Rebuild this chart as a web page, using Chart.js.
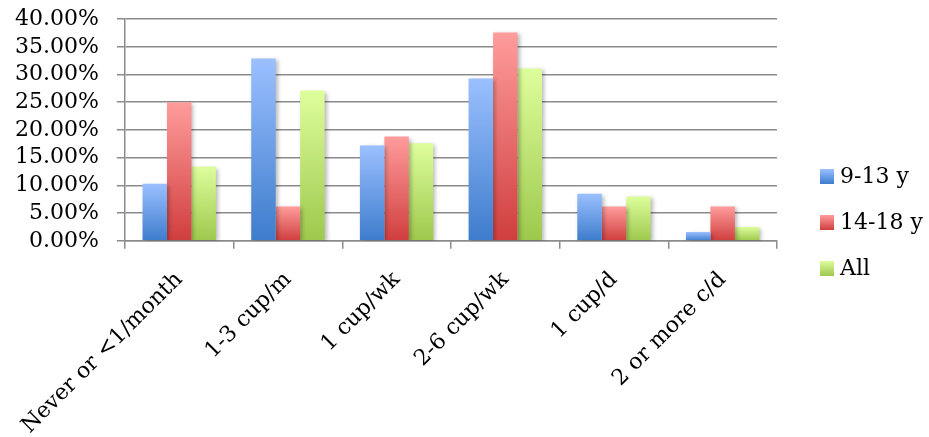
<!DOCTYPE html>
<html lang="en">
<head>
    <meta charset="UTF-8">
    <title>Cup frequency by age group</title>
    <script src="https://cdn.jsdelivr.net/npm/chart.js"></script>
    <style>
        html, body { margin: 0; padding: 0; background: #fff; }
        #wrap { width: 929px; height: 437px; }
    </style>
</head>
<body>
    <div id="wrap"><canvas id="barChart"></canvas></div>

    <script>
        // frequency categories
        const categories = ['Never or <1/month', '1-3 cup/m', '1 cup/wk', '2-6 cup/wk', '1 cup/d', '2 or more c/d'];
        const seriesNames = ['9-13 y', '14-18 y', 'All'];

        // percent of each group
        const kids9to13 = [10.3, 32.9, 17.2, 29.3, 8.5, 1.6];
        const teens14to18 = [25.0, 6.2, 18.8, 37.6, 6.2, 6.2];
        const allAges = [13.4, 27.1, 17.6, 31.1, 8.0, 2.5];

        const yTicks = [0, 5, 10, 15, 20, 25, 30, 35, 40];

        // light top -> dark bottom, like the old office bar style
        const shades = [
            ['#9bc0ff', '#3d7ccc'],
            ['#ff9c9c', '#d03e3e'],
            ['#defe9c', '#9dc84c']
        ];

        const FONT = "'DejaVu Serif', serif";
        const GRID = '#8b8b8b';

        function barFill(top, bottom) {
            return function (c) {
                const chart = c.chart;
                const y = chart.scales.y;
                if (c.type !== 'data' || !y || !c.parsed) return bottom;
                const yTop = y.getPixelForValue(c.parsed.y);
                const yBase = y.getPixelForValue(0);
                if (!isFinite(yTop) || !isFinite(yBase) || yTop === yBase) return bottom;
                const g = chart.ctx.createLinearGradient(0, yTop, 0, yBase);
                g.addColorStop(0, top);
                g.addColorStop(1, bottom);
                return g;
            };
        }

        // soft drop shadow behind the bars
        const barShadow = {
            id: 'barShadow',
            beforeDatasetsDraw(chart) {
                const ctx = chart.ctx;
                ctx.save();
                ctx.shadowColor = 'rgba(0,0,0,0.28)';
                ctx.shadowBlur = 4;
                ctx.shadowOffsetX = 2;
                ctx.shadowOffsetY = 2;
            },
            afterDatasetsDraw(chart) {
                chart.ctx.restore();
            }
        };

        // legend to the right of the plot, boxes shaded like the bars
        const sideLegend = {
            id: 'sideLegend',
            afterDraw(chart) {
                const ctx = chart.ctx;
                const x = chart.chartArea.right + 43;
                const rowGap = 46;
                const n = chart.data.datasets.length;
                let y = chart.height / 2 + 4 - rowGap * (n - 1) / 2;
                ctx.save();
                ctx.font = '22px ' + FONT;
                ctx.textBaseline = 'middle';
                chart.data.datasets.forEach((ds, i) => {
                    const g = ctx.createLinearGradient(0, y - 7.5, 0, y + 7.5);
                    g.addColorStop(0, shades[i][0]);
                    g.addColorStop(1, shades[i][1]);
                    ctx.fillStyle = g;
                    ctx.fillRect(x, y - 7.5, 14, 15);
                    ctx.fillStyle = '#000';
                    ctx.fillText(ds.label, x + 20, y + 1);
                    y += rowGap;
                });
                ctx.restore();
            }
        };

        const seriesValues = [kids9to13, teens14to18, allAges];
        const datasets = seriesNames.map((name, i) => ({
            label: name,
            data: seriesValues[i],
            backgroundColor: barFill(shades[i][0], shades[i][1]),
            borderWidth: 0,
            categoryPercentage: 0.675,
            barPercentage: 1.0
        }));

        const ctx = document.getElementById('barChart').getContext('2d');
        const myBarChart = new Chart(ctx, {
            type: 'bar',
            data: { labels: categories, datasets: datasets },
            plugins: [barShadow, sideLegend],
            options: {
                responsive: true,
                maintainAspectRatio: false,
                animation: false,
                layout: { padding: { left: -3, right: 152, top: 0, bottom: -20 } },
                plugins: {
                    legend: { display: false },
                    tooltip: { enabled: false }
                },
                scales: {
                    x: {
                        offset: true,
                        // the slanted first label may hang left past the y axis
                        afterFit(scale) {
                            scale.paddingLeft = 0;
                        },
                        grid: {
                            display: true,
                            offset: true,
                            drawOnChartArea: false,
                            drawTicks: true,
                            tickLength: 8,
                            color: GRID,
                            lineWidth: 1.5
                        },
                        border: { display: true, color: GRID, width: 1.5 },
                        ticks: {
                            autoSkip: false,
                            minRotation: 45,
                            maxRotation: 45,
                            padding: 18,
                            color: '#000',
                            font: { family: FONT, size: 22 }
                        }
                    },
                    y: {
                        min: 0,
                        max: 40,
                        afterBuildTicks(scale) {
                            scale.ticks = yTicks.map(v => ({ value: v }));
                        },
                        grid: {
                            color: GRID,
                            lineWidth: 1.5,
                            drawTicks: true,
                            tickLength: 8
                        },
                        border: { display: true, color: GRID, width: 1.5 },
                        ticks: {
                            autoSkip: false,
                            padding: 18,
                            color: '#000',
                            font: { family: FONT, size: 22, lineHeight: 0.1 },
                            callback: function (value) {
                                return value.toFixed(2) + '%';
                            }
                        }
                    }
                }
            }
        });
    </script>
</body>
</html>
